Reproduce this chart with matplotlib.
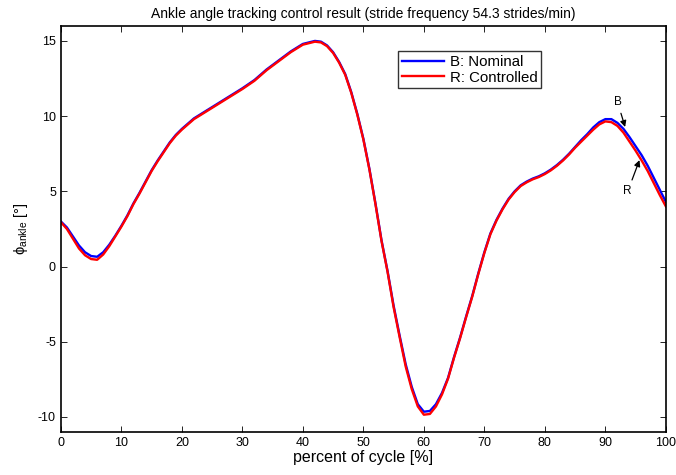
import numpy as np
import matplotlib
matplotlib.use("Agg")
import matplotlib.pyplot as plt

plt.rcParams['font.family'] = ['Liberation Sans', 'DejaVu Sans']
plt.rcParams['mathtext.fontset'] = 'custom'
plt.rcParams['mathtext.rm'] = 'Liberation Sans'
plt.rcParams['axes.unicode_minus'] = False

# percent of gait cycle
cycle = [0, 1, 2, 3, 4, 5, 6, 7, 8, 9, 10, 11, 12, 13, 14, 15, 16, 17, 18, 19, 20,
         22, 24, 26, 28, 30, 32, 34, 36, 38, 40, 42, 43, 44, 45, 46, 47, 48, 49, 50,
         51, 52, 53, 54, 55, 56, 57, 58, 59, 60, 61, 62, 63, 64, 65, 66, 67, 68, 69,
         70, 71, 72, 73, 74, 75, 76, 77, 78, 79, 80, 81, 82, 83, 84, 85, 86, 87, 88,
         89, 90, 91, 92, 93, 94, 95, 96, 97, 98, 99, 100]

# nominal ankle angle [deg]
nominal = [3.0, 2.6, 2.0, 1.4, 0.95, 0.7, 0.65, 0.95, 1.45, 2.05, 2.7, 3.4, 4.2, 4.9,
           5.65, 6.4, 7.05, 7.65, 8.25, 8.75, 9.15,
           9.85, 10.35, 10.85, 11.35, 11.85, 12.4, 13.1, 13.7, 14.3, 14.8, 15.0, 14.95,
           14.7, 14.25, 13.6, 12.8, 11.6, 10.15, 8.5,
           6.5, 4.2, 1.75, -0.3, -2.6, -4.6, -6.5, -8.0, -9.15, -9.65, -9.6, -9.15,
           -8.4, -7.4, -6.0, -4.7, -3.3, -1.95, -0.45,
           0.95, 2.2, 3.1, 3.85, 4.5, 5.0, 5.4, 5.65, 5.85, 6.0, 6.2, 6.45, 6.75, 7.1,
           7.5, 7.95, 8.4, 8.8, 9.25,
           9.6, 9.8, 9.8, 9.55, 9.15, 8.6, 8.0, 7.4, 6.7, 5.9, 5.1, 4.3]

# controlled ankle angle [deg]
controlled = [2.95, 2.5, 1.85, 1.2, 0.75, 0.5, 0.45, 0.8, 1.35, 2.0, 2.65, 3.35, 4.15,
              4.85, 5.6, 6.35, 7.0, 7.6, 8.2, 8.7, 9.1,
              9.8, 10.3, 10.8, 11.3, 11.8, 12.35, 13.05, 13.65, 14.25, 14.75, 14.95,
              14.9, 14.65, 14.2, 13.55, 12.75, 11.55, 10.1, 8.45,
              6.45, 4.15, 1.7, -0.35, -2.7, -4.7, -6.65, -8.15, -9.3, -9.85, -9.8,
              -9.3, -8.5, -7.45, -6.05, -4.75, -3.35, -2.0, -0.5,
              0.9, 2.15, 3.05, 3.8, 4.45, 4.95, 5.35, 5.6, 5.8, 5.95, 6.15, 6.4, 6.7,
              7.05, 7.45, 7.9, 8.3, 8.7, 9.1,
              9.45, 9.65, 9.6, 9.35, 8.9, 8.3, 7.7, 7.05, 6.35, 5.55, 4.75, 4.0]

title = 'Ankle angle tracking control result (stride frequency 54.3 strides/min)'
xticks = np.arange(0, 101, 10)
yticks = [-10, -5, 0, 5, 10, 15]

fig = plt.figure(figsize=(6.76, 4.75), dpi=100)
ax = fig.add_axes([0.090, 0.0905, 0.895, 0.855])

ax.plot(cycle, nominal, color='#0000ff', lw=1.7, label='B: Nominal')
ax.plot(cycle, controlled, color='#ff0000', lw=1.7, label='R: Controlled')

ax.set_xlim(0, 100)
ax.set_ylim(-11, 16)
ax.set_xticks(xticks)
ax.set_yticks(yticks)
ax.tick_params(direction='in', top=True, right=True, labelsize=9, length=4, width=0.6)
for sp in ax.spines.values():
    sp.set_linewidth(1.2)

ax.set_title(title, fontsize=10, pad=6)
ax.set_xlabel('percent of cycle [%]', fontsize=11.5, labelpad=1)
ax.set_ylabel('\u03d5$_{\\rm ankle}$ [°]', fontsize=10.5, labelpad=6)

leg = ax.legend(loc='upper left', bbox_to_anchor=(0.557, 0.937), fontsize=10.8,
                frameon=True, fancybox=False, edgecolor='black', handlelength=2.8,
                borderpad=0.25, labelspacing=0.1, handletextpad=0.4, borderaxespad=0)
leg.get_frame().set_linewidth(1.0)

arrow = dict(arrowstyle='-|>', color='black', lw=0.9, mutation_scale=9)
ax.annotate('B', xy=(93.4, 9.1), xytext=(92.0, 10.95), fontsize=8.5,
            ha='center', va='center', arrowprops=arrow)
ax.annotate('R', xy=(95.8, 7.25), xytext=(93.7, 5.0), fontsize=8.5,
            ha='center', va='center', arrowprops=arrow)

fig.savefig('out.png', dpi=100)
